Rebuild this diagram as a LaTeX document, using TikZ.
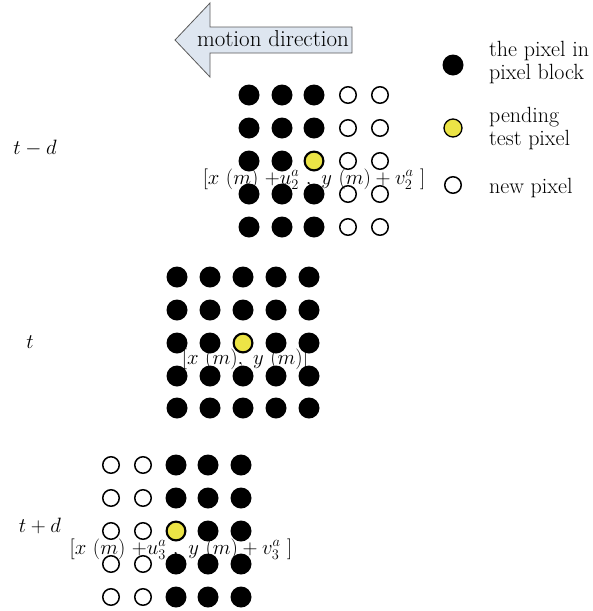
\documentclass[tikz,border=0pt]{standalone}
\usetikzlibrary{shapes.arrows}
\definecolor{pendyellow}{RGB}{236,228,70}
\definecolor{arrowfill}{RGB}{222,230,240}
\definecolor{arrowedge}{RGB}{90,90,90}
\begin{document}
\begin{tikzpicture}[x=1pt,y=-1pt,
  blk/.style={circle,fill=black,inner sep=0pt,minimum size=21pt},
  newpx/.style={circle,draw=black,line width=1.5pt,fill=white,inner sep=0pt,minimum size=16.5pt},
  pend/.style={circle,draw=black,line width=1.3pt,fill=pendyellow,inner sep=0pt,minimum size=18pt},
  lbl/.style={font=\fontsize{21}{25}\selectfont,inner sep=0pt},
  arrowlbl/.style={font=\fontsize{23}{27}\selectfont,inner sep=0pt},
  coordlbl/.style={font=\fontsize{21.5}{25}\selectfont,inner sep=0pt},
  legend/.style={font=\fontsize{22}{23}\selectfont,align=left,anchor=west,inner sep=0pt}]
\useasboundingbox (0,0) rectangle (593,611);

% motion direction arrow
\draw[arrowedge,fill=arrowfill,line width=0.8pt]
  (352,27) -- (210,27) -- (210,3) -- (175,40) -- (210,77) -- (210,53) -- (352,53) -- cycle;
\node[arrowlbl] (motion) at (273,39) {motion direction};

% legend
\node[blk] (lgblk) at (453,65) {};
\node[pend] (lgpend) at (453,128) {};
\node[newpx] (lgnew) at (453,185) {};
\node[legend] (lgtxt1) at (489,63) {the pixel in\\pixel block};
\node[legend] (lgtxt2) at (489,129) {pending\\test pixel};
\node[legend] (lgtxt3) at (489,188) {new pixel};

% frame t-d
\foreach \r/\y in {1/95,2/128,3/161,4/194,5/227}{
  \foreach \c/\x in {1/249,2/282,3/314}{
    \node[blk] (a\r\c) at (\x,\y) {};
  }
  \foreach \c/\x in {4/348,5/380}{
    \node[newpx] (a\r\c) at (\x,\y) {};
  }
}
\node[pend] (apend) at (314,161) {};
\node[coordlbl] (alab) at (314,179) {$[x\ (m)\ {+}u_2^a\ ,\ y\ (m) + v_2^a\ ]$};
\node[lbl] (tmd) at (35,148) {$t-d$};

% frame t
\foreach \r/\y in {1/277,2/310,3/343,4/376,5/408}{
  \foreach \c/\x in {1/177,2/210,3/243,4/276,5/309}{
    \node[blk] (b\r\c) at (\x,\y) {};
  }
}
\node[pend] (bpend) at (243,343) {};
\node[coordlbl] (blab) at (245,359) {$[x\ (m),\ y\ (m)]$};
\node[lbl] (tt) at (30,342) {$t$};

% frame t+d
\foreach \r/\y in {1/465,2/498,3/531,4/564,5/597}{
  \foreach \c/\x in {1/111,2/143}{
    \node[newpx] (c\r\c) at (\x,\y) {};
  }
  \foreach \c/\x in {3/176,4/208,5/241}{
    \node[blk] (c\r\c) at (\x,\y) {};
  }
}
\node[pend] (cpend) at (176,531) {};
\node[coordlbl] (clab) at (181,549) {$[x\ (m)\ {+}u_3^a\ ,\ y\ (m) + v_3^a\ ]$};
\node[lbl] (tpd) at (40,526) {$t+d$};
\end{tikzpicture}
\end{document}
